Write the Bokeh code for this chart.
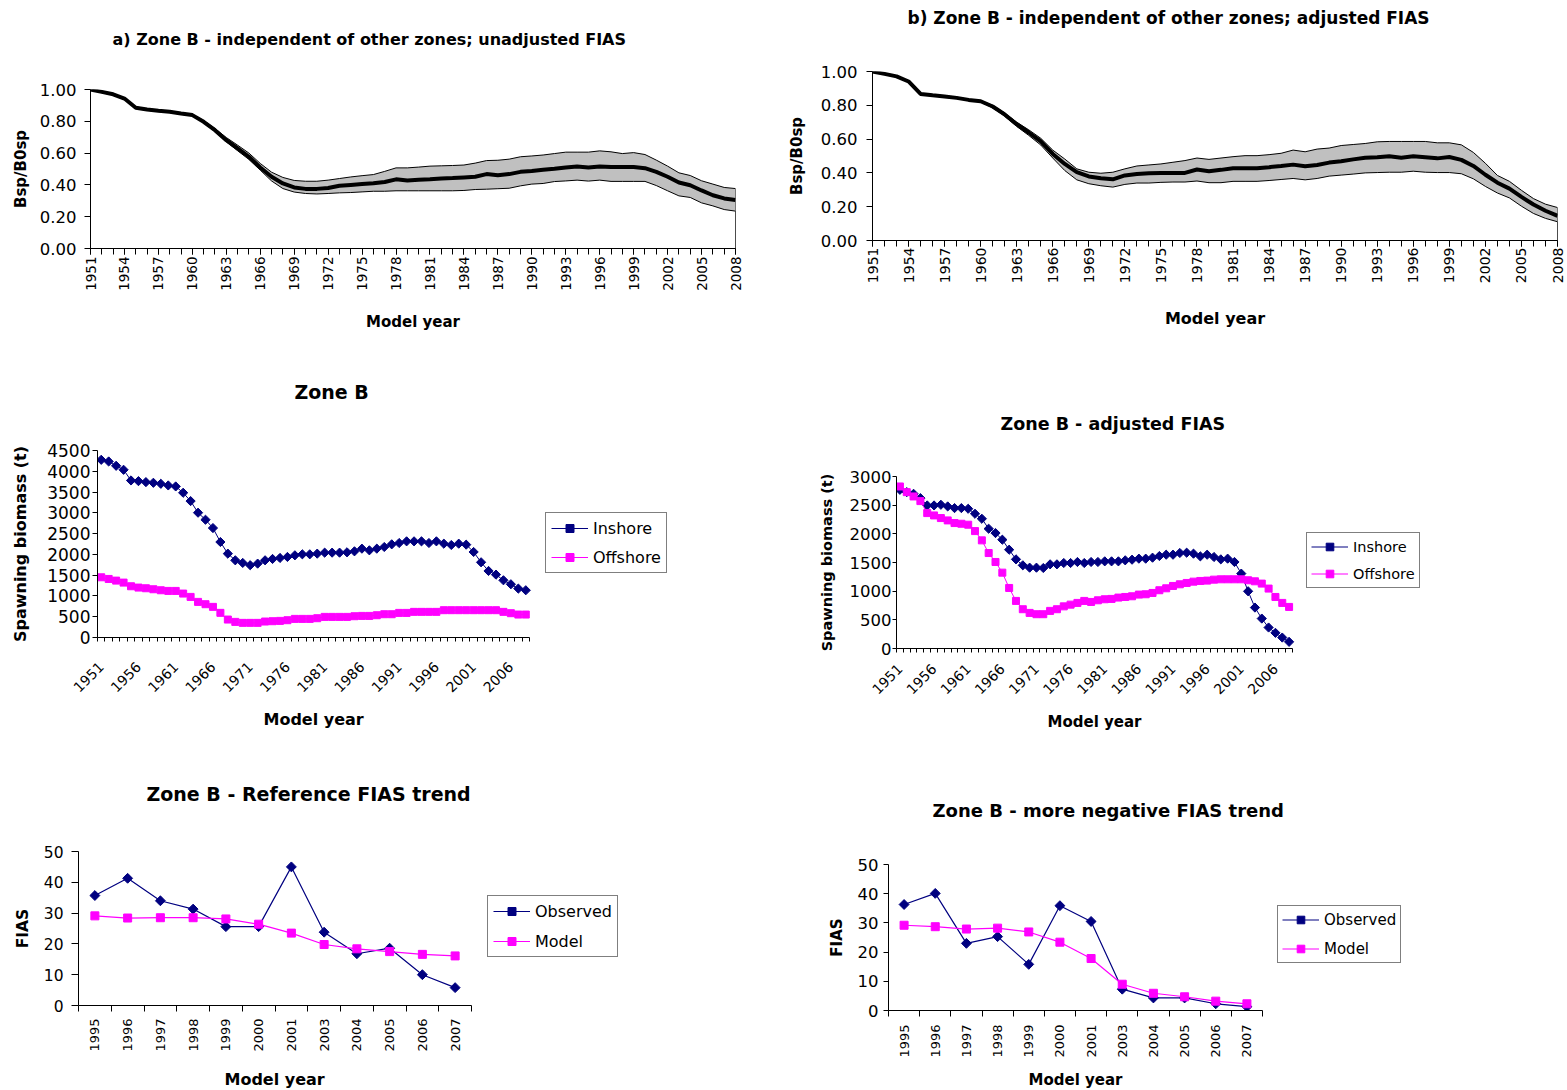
import math
from bokeh.plotting import figure
from bokeh.layouts import column, row
from bokeh.models import Range1d, FixedTicker, NumeralTickFormatter, Legend, LegendItem, Title
from bokeh.embed import file_html
from bokeh.resources import INLINE

FONT = "DejaVu Sans"
NAVY = "#000080"
MAGENTA = "#FF00FF"
BAND = "#C0C0C0"

# ---------------- data ----------------
years = list(range(1951, 2009))

a_mean = [1.000, 0.985, 0.970, 0.943, 0.885, 0.874, 0.866, 0.860, 0.849, 0.839,
          0.797, 0.744, 0.681, 0.629, 0.577, 0.509, 0.451, 0.409, 0.384, 0.375,
          0.375, 0.380, 0.395, 0.400, 0.405, 0.410, 0.418, 0.435, 0.428, 0.432,
          0.435, 0.440, 0.443, 0.447, 0.451, 0.468, 0.460, 0.468, 0.482, 0.488,
          0.495, 0.502, 0.510, 0.516, 0.510, 0.516, 0.512, 0.512, 0.512, 0.505,
          0.482, 0.451, 0.415, 0.398, 0.365, 0.335, 0.315, 0.305]
a_upper = [1.003, 0.990, 0.975, 0.948, 0.890, 0.879, 0.871, 0.865, 0.854, 0.844,
           0.805, 0.755, 0.698, 0.650, 0.600, 0.535, 0.480, 0.447, 0.428, 0.423,
           0.423, 0.430, 0.440, 0.450, 0.458, 0.465, 0.485, 0.507, 0.507, 0.512,
           0.518, 0.520, 0.522, 0.525, 0.537, 0.553, 0.555, 0.562, 0.577, 0.582,
           0.588, 0.597, 0.606, 0.606, 0.606, 0.614, 0.608, 0.597, 0.603, 0.591,
           0.556, 0.518, 0.476, 0.459, 0.426, 0.405, 0.384, 0.377]
a_lower = [0.995, 0.980, 0.965, 0.938, 0.880, 0.869, 0.861, 0.855, 0.844, 0.834,
           0.790, 0.735, 0.671, 0.615, 0.560, 0.493, 0.425, 0.377, 0.355, 0.346,
           0.343, 0.346, 0.350, 0.352, 0.356, 0.360, 0.360, 0.363, 0.363, 0.363,
           0.363, 0.363, 0.363, 0.365, 0.371, 0.373, 0.376, 0.379, 0.394, 0.405,
           0.409, 0.421, 0.425, 0.430, 0.424, 0.430, 0.422, 0.422, 0.422, 0.422,
           0.396, 0.363, 0.331, 0.321, 0.287, 0.268, 0.245, 0.235]

b_mean = [1.000, 0.986, 0.971, 0.941, 0.867, 0.859, 0.852, 0.844, 0.832, 0.824,
          0.793, 0.746, 0.688, 0.639, 0.586, 0.512, 0.453, 0.404, 0.379, 0.368,
          0.362, 0.385, 0.393, 0.398, 0.400, 0.400, 0.400, 0.420, 0.410, 0.418,
          0.428, 0.428, 0.428, 0.434, 0.441, 0.449, 0.439, 0.447, 0.461, 0.469,
          0.480, 0.490, 0.492, 0.498, 0.490, 0.498, 0.492, 0.486, 0.494, 0.477,
          0.441, 0.389, 0.342, 0.307, 0.258, 0.213, 0.176, 0.146]
b_upper = [1.003, 0.990, 0.975, 0.945, 0.871, 0.863, 0.856, 0.848, 0.836, 0.828,
           0.800, 0.755, 0.700, 0.655, 0.605, 0.535, 0.482, 0.424, 0.404, 0.398,
           0.404, 0.424, 0.441, 0.447, 0.453, 0.463, 0.473, 0.488, 0.480, 0.488,
           0.496, 0.502, 0.502, 0.508, 0.516, 0.535, 0.525, 0.541, 0.547, 0.562,
           0.568, 0.574, 0.584, 0.586, 0.586, 0.586, 0.586, 0.578, 0.578, 0.566,
           0.521, 0.457, 0.385, 0.350, 0.297, 0.248, 0.215, 0.195]
b_lower = [0.997, 0.982, 0.967, 0.937, 0.863, 0.855, 0.848, 0.840, 0.828, 0.820,
           0.785, 0.735, 0.675, 0.622, 0.565, 0.488, 0.414, 0.359, 0.336, 0.324,
           0.316, 0.332, 0.340, 0.340, 0.344, 0.346, 0.346, 0.352, 0.342, 0.342,
           0.350, 0.350, 0.350, 0.355, 0.361, 0.367, 0.359, 0.367, 0.381, 0.387,
           0.393, 0.400, 0.402, 0.404, 0.404, 0.410, 0.404, 0.402, 0.402, 0.395,
           0.365, 0.320, 0.281, 0.252, 0.203, 0.160, 0.131, 0.111]

c_inshore = [4276, 4236, 4132, 4036, 3779, 3763, 3739, 3723, 3699, 3659,
             3635, 3483, 3283, 3003, 2834, 2634, 2298, 2018, 1858, 1794,
             1740, 1778, 1858, 1890, 1914, 1938, 1978, 2002, 2002, 2018,
             2042, 2042, 2042, 2050, 2074, 2138, 2098, 2138, 2178, 2242,
             2274, 2314, 2314, 2314, 2274, 2314, 2258, 2226, 2258, 2234,
             2058, 1810, 1601, 1513, 1377, 1281, 1177, 1137]
c_offshore = [1449, 1409, 1369, 1321, 1233, 1201, 1185, 1161, 1137, 1121,
              1121, 1057, 977, 857, 801, 737, 593, 432, 376, 352,
              352, 352, 384, 392, 400, 416, 448, 448, 448, 464,
              496, 496, 496, 496, 512, 520, 520, 536, 560, 560,
              592, 592, 617, 617, 617, 617, 657, 657, 657, 657,
              657, 657, 657, 657, 617, 585, 552, 552]

d_inshore = [2768, 2727, 2698, 2623, 2495, 2495, 2507, 2478, 2449, 2449,
             2437, 2350, 2263, 2089, 2014, 1898, 1723, 1555, 1451, 1410,
             1410, 1404, 1468, 1468, 1491, 1491, 1509, 1491, 1509, 1509,
             1520, 1520, 1520, 1538, 1549, 1567, 1567, 1584, 1613, 1636,
             1636, 1666, 1671, 1654, 1607, 1636, 1596, 1555, 1567, 1509,
             1306, 998, 714, 522, 366, 273, 191, 116]
d_offshore = [2826, 2727, 2652, 2571, 2362, 2321, 2275, 2234, 2188, 2176,
              2159, 2048, 1886, 1665, 1509, 1323, 1056, 830, 685, 621,
              598, 598, 656, 685, 735, 765, 795, 830, 812, 841,
              859, 865, 888, 899, 911, 940, 946, 969, 1016, 1050,
              1091, 1120, 1143, 1166, 1178, 1184, 1201, 1207, 1207, 1207,
              1207, 1190, 1172, 1132, 1045, 899, 795, 725]

fias_years = ["1995", "1996", "1997", "1998", "1999", "2000", "2001",
              "2003", "2004", "2005", "2006", "2007"]
e_observed = [35.7, 41.3, 34.0, 31.3, 25.6, 25.6, 45.0, 23.8, 16.8, 18.6, 10.0, 5.8]
e_model = [29.1, 28.4, 28.5, 28.5, 28.1, 26.4, 23.5, 19.8, 18.4, 17.5, 16.6, 16.1]
f_observed = [36.3, 40.1, 23.0, 25.3, 15.8, 35.9, 30.5, 7.3, 4.3, 4.3, 2.3, 1.3]
f_model = [29.2, 28.7, 27.9, 28.2, 26.9, 23.4, 17.8, 9.0, 5.9, 4.7, 3.2, 2.3]


# ---------------- helpers ----------------
def spacer(gap):
    return Title(text=" ", text_font_size="1px", standoff=gap)


def text_title(text, offset, size, valign):
    return Title(text=text, align="left", offset=offset, standoff=0,
                 vertical_align=valign, text_font=FONT, text_font_style="bold",
                 text_font_size=size, text_color="black")


def make_fig(W, H, border, xr, yr, title, toff, tgap, tsize):
    left, right, top, bottom = border
    p = figure(width=W, height=H, x_range=xr, y_range=yr, title=None,
               output_backend="svg", toolbar_location=None,
               min_border_left=left, min_border_right=right,
               min_border_top=top, min_border_bottom=bottom)
    p.frame_align = False
    p.outline_line_color = None
    p.grid.visible = False
    p.background_fill_color = "white"
    p.border_fill_color = "white"
    # invisible spacer between frame and title, then the real title
    p.add_layout(spacer(tgap), "above")
    p.add_layout(text_title(title, toff, tsize, "bottom"), "above")
    for ax in p.axis:
        ax.axis_line_color = "black"
        ax.axis_line_width = 1
        ax.major_tick_line_color = "black"
        ax.minor_tick_line_color = "black"
        ax.major_tick_in = 0
        ax.minor_tick_in = 0
        ax.major_label_text_font = FONT
        ax.major_label_text_color = "black"
        ax.axis_label_text_font = FONT
        ax.axis_label_text_font_style = "bold"
        ax.axis_label_text_color = "black"
    return p


def add_xtitle(p, text, offset, gap, size):
    # x-axis title centred under the data part of the (legend-wide) frame
    p.add_layout(spacer(gap), "below")
    p.add_layout(text_title(text, offset, size, "top"), "below")


def add_legend(p, items, loc, fsize, pad, gh, sp):
    lg = Legend(items=items, location=loc, orientation="vertical",
                border_line_color="black", border_line_width=1,
                background_fill_color="white", background_fill_alpha=1.0,
                padding=pad, spacing=sp, glyph_width=37, glyph_height=gh,
                label_height=gh, label_standoff=5, margin=0,
                label_text_font=FONT, label_text_font_size=fsize,
                label_text_color="black")
    p.add_layout(lg)


def ratio_panel(W, H, border, mean, upper, lower, title, toff, tgap, tsize,
                yfont, ystand, ylab_standoff, xfont, xstand, xlab_standoff, labsize):
    p = make_fig(W, H, border, Range1d(years[0], years[-1]), Range1d(0, 1.0),
                 title, toff, tgap, tsize)
    xs = [years[0]] + years + [years[-1]]
    p.patch(xs, [0] + upper + [0], fill_color=BAND, line_color="black", line_width=1)
    p.patch(xs, [0] + lower + [0], fill_color="white", line_color="black", line_width=1)
    p.line(years, mean, line_color="black", line_width=4)
    xa = p.xaxis[0]
    xa.ticker = FixedTicker(ticks=years[::3], minor_ticks=years)
    xa.major_tick_out = 6
    xa.minor_tick_out = 6
    xa.major_label_orientation = math.pi / 2
    xa.major_label_standoff = xstand
    xa.major_label_text_font_size = xfont
    xa.axis_label = "Model year"
    xa.axis_label_text_font_size = labsize
    xa.axis_label_standoff = xlab_standoff
    ya = p.yaxis[0]
    ya.ticker = FixedTicker(ticks=[0.0, 0.2, 0.4, 0.6, 0.8, 1.0])
    ya.formatter = NumeralTickFormatter(format="0.00")
    ya.major_tick_out = 6
    ya.major_label_standoff = ystand
    ya.major_label_text_font_size = yfont
    ya.axis_label = "Bsp/B0sp"
    ya.axis_label_text_font_size = "15px"
    ya.axis_label_standoff = ylab_standoff
    return p


def extended_range(x0, x1, frame_px, data_px):
    # the frame also hosts the legend: stretch the range so that the data
    # occupy only data_px of the frame width
    return Range1d(x0, x0 + (x1 - x0) * frame_px / data_px)


def biomass_panel(W, H, border, frame_px, data_px, inshore, offshore, ymax,
                  title, toff, tgap, tsize,
                  legloc, legfont, legpad, leggh, legsp,
                  yfont, ytick, ystand, ylab_size, ylab_standoff,
                  xstand, xt_off, xt_gap, xlab_size):
    x0, x1 = years[0] - 0.5, years[-1] + 0.5
    p = make_fig(W, H, border, extended_range(x0, x1, frame_px, data_px),
                 Range1d(0, ymax), title, toff, tgap, tsize)
    l1 = p.line(years, inshore, line_color=NAVY, line_width=1)
    s1 = p.scatter(years, inshore, marker="square", angle=math.pi / 4, size=6.5,
                   fill_color=NAVY, line_color=NAVY)
    l2 = p.line(years, offshore, line_color=MAGENTA, line_width=1)
    s2 = p.scatter(years, offshore, marker="square", size=7,
                   fill_color=MAGENTA, line_color=MAGENTA)
    xa = p.xaxis[0]
    xa.bounds = (x0, x1)
    xa.ticker = FixedTicker(ticks=years[::5],
                            minor_ticks=[y - 0.5 for y in years] + [years[-1] + 0.5])
    xa.major_tick_out = 0
    xa.major_tick_line_color = None
    xa.minor_tick_out = 4
    xa.major_label_orientation = math.pi / 4
    xa.major_label_standoff = xstand
    xa.major_label_text_font_size = "14px"
    add_xtitle(p, "Model year", xt_off, xt_gap, xlab_size)
    ya = p.yaxis[0]
    ya.ticker = FixedTicker(ticks=list(range(0, ymax + 1, 500)))
    ya.major_tick_out = ytick
    ya.major_label_standoff = ystand
    ya.major_label_text_font_size = yfont
    ya.axis_label = "Spawning biomass (t)"
    ya.axis_label_text_font_size = ylab_size
    ya.axis_label_standoff = ylab_standoff
    add_legend(p, [LegendItem(label="Inshore", renderers=[l1, s1]),
                   LegendItem(label="Offshore", renderers=[l2, s2])],
               legloc, legfont, legpad, leggh, legsp)
    return p


def fias_panel(W, H, border, frame_px, data_px, observed, model,
               title, toff, tgap, tsize,
               legloc, legfont, legpad, leggh, legsp,
               yfont, ytick, ystand, ylab_size, ylab_standoff,
               xstand, xt_off, xt_gap, xlab_size):
    n = len(fias_years)
    xs = list(range(n))
    x0, x1 = -0.5, n - 0.5
    p = make_fig(W, H, border, extended_range(x0, x1, frame_px, data_px),
                 Range1d(0, 50), title, toff, tgap, tsize)
    l1 = p.line(xs, observed, line_color=NAVY, line_width=1.2)
    s1 = p.scatter(xs, observed, marker="square", angle=math.pi / 4, size=7,
                   fill_color=NAVY, line_color=NAVY)
    l2 = p.line(xs, model, line_color=MAGENTA, line_width=1.2)
    s2 = p.scatter(xs, model, marker="square", size=8,
                   fill_color=MAGENTA, line_color=MAGENTA)
    xa = p.xaxis[0]
    xa.bounds = (x0, x1)
    xa.ticker = FixedTicker(ticks=xs, minor_ticks=[x - 0.5 for x in xs] + [n - 0.5])
    xa.major_label_overrides = {x: lab for x, lab in zip(xs, fias_years)}
    xa.major_tick_out = 0
    xa.major_tick_line_color = None
    xa.minor_tick_out = 6
    xa.major_label_orientation = math.pi / 2
    xa.major_label_standoff = xstand
    xa.major_label_text_font_size = "13px"
    add_xtitle(p, "Model year", xt_off, xt_gap, xlab_size)
    ya = p.yaxis[0]
    ya.ticker = FixedTicker(ticks=[0, 10, 20, 30, 40, 50])
    ya.major_tick_out = ytick
    ya.major_label_standoff = ystand
    ya.major_label_text_font_size = yfont
    ya.axis_label = "FIAS"
    ya.axis_label_text_font_size = ylab_size
    ya.axis_label_standoff = ylab_standoff
    add_legend(p, [LegendItem(label="Observed", renderers=[l1, s1]),
                   LegendItem(label="Model", renderers=[l2, s2])],
               legloc, legfont, legpad, leggh, legsp)
    return p


# ---------------- panels ----------------
pA = ratio_panel(775, 350, (90, 40, 89, 102), a_mean, a_upper, a_lower,
                 "a) Zone B - independent of other zones; unadjusted FIAS",
                 22, 37.5, "16px", "16.5px", 8, 7, "13.5px", 2, 19, "15px")
pB = ratio_panel(792, 350, (97, 10, 71, 110), b_mean, b_upper, b_lower,
                 "b) Zone B - independent of other zones; adjusted FIAS",
                 35, 41, "17px", "16.5px", 9, 12, "14px", 1, 23, "16px")

pC = biomass_panel(775, 395, (97, 100, 100, 108), 578, 432,
                   c_inshore, c_offshore, 4500,
                   "Zone B", 197, 45, "19px",
                   (448, 64), "16px", 5, 20, 9,
                   "17px", 5, 2, "16px", 14,
                   23, 166, 7, "16px")
pD = biomass_panel(792, 395, (121, 137, 126, 97), 534, 396,
                   d_inshore, d_offshore, 3000,
                   "Zone B - adjusted FIAS", 104, 39.6, "17.5px",
                   (410, 60), "14.5px", 4, 19, 8,
                   "16.5px", 4, 1, "14.5px", 12,
                   14, 151, 8, "15px")

pE = fias_panel(775, 345, (78, 150, 106, 85), 547, 393, e_observed, e_model,
                "Zone B - Reference FIAS trend", 68, 43.8, "19px",
                (409, 48), "16px", 5, 20, 10,
                "15.5px", 7, 8, "15.5px", 9,
                7, 146, 12, "16px")
pF = fias_panel(792, 345, (113, 157, 119, 78), 522, 374, f_observed, f_model,
                "Zone B - more negative FIAS trend", 44, 41.3, "18px",
                (389, 47), "15px", 4, 19, 10,
                "16.5px", 5, 5, "15px", 9,
                8, 140, 7, "15px")

layout = column(row(pA, pB), row(pC, pD), row(pE, pF))

open("out.html", "w").write(file_html(layout, INLINE))
